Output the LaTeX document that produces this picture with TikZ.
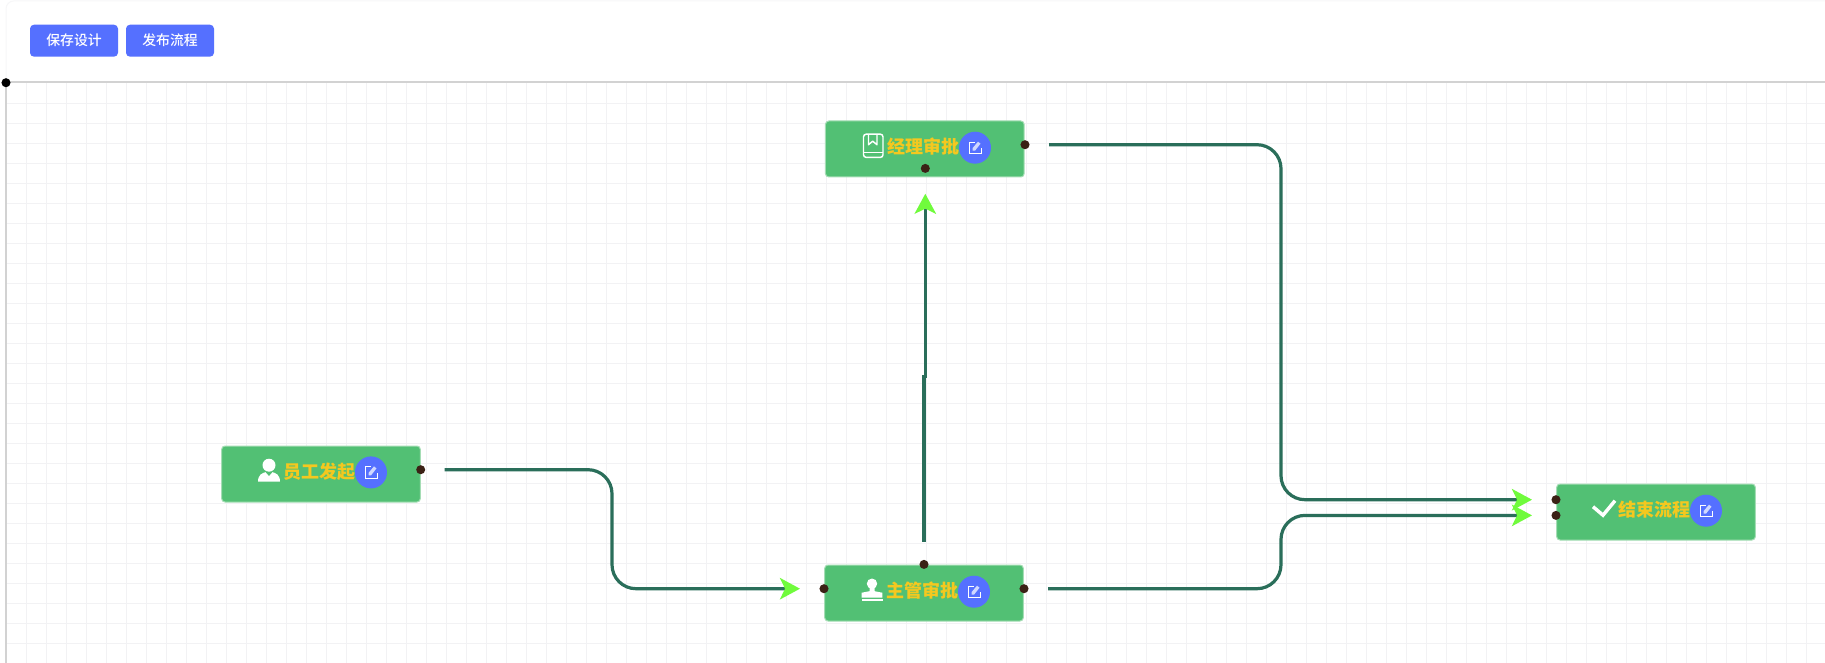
\documentclass[tikz,border=0pt]{standalone}
\usepackage{fontspec}
\setmainfont{Noto Sans CJK SC}
\newfontfamily\btnfont{Noto Sans CJK SC Medium}
\usepackage{xcolor}
\usetikzlibrary{arrows.meta}
\definecolor{flowgreen}{HTML}{52C074}
\definecolor{flowedge}{HTML}{A5DDB5}
\definecolor{flowblue}{HTML}{5570FF}
\definecolor{flowgold}{HTML}{F4C81F}
\definecolor{flowline}{HTML}{2A6E5A}
\definecolor{flowtip}{HTML}{70FB3C}
\definecolor{flowdot}{HTML}{3B2115}
\definecolor{flowgrid}{HTML}{F2F2F4}
\definecolor{flowframe}{HTML}{F7F7F8}
\definecolor{flowrule}{HTML}{D2D2D2}
\tikzset{
    btn/.style={
        draw=none,
        fill=flowblue,
        rounded corners=3pt,
        minimum width=66pt,
        minimum height=24pt,
        inner sep=0pt,
        text=white,
        font=\fontsize{10.4}{12}\btnfont
    },
    step box/.style={
        draw=flowedge,
        line width=.75pt,
        fill=flowgreen,
        rounded corners=2.5pt,
        minimum width=149pt,
        minimum height=42pt,
        inner sep=0pt
    },
    step text/.style={
        text=flowgold,
        inner sep=0pt,
        font=\fontsize{13.5}{15}\selectfont\bfseries
    },
    edit knob/.style={
        circle,
        fill=flowblue,
        minimum size=24pt,
        inner sep=0pt
    },
    port/.style={
        circle,
        fill=flowdot,
        minimum size=6.8pt,
        inner sep=0pt
    },
    flow/.style={
        draw=flowline,
        line width=2.4pt,
        rounded corners=18pt,
        -{Stealth[length=15pt,width=16pt,inset=3.8pt,fill=flowtip,color=flowtip]}
    },
    icon/.style={draw=white,line width=1.1pt,fill=none}
}
% #1 name, #2 centre x, #3 centre y, #4 label, #5 knob x, #6 knob y
\newcommand{\stepnode}[6] {
    \node[step box] (#1) at ({#2}, {#3}) {};
    \node[step text,anchor=west] (#1text) at ({#2-37.5}, {#3-2.5}) {#4};
    \node[edit knob] (#1knob) at ({#5}, {#6}) {};
    \begin{scope}[shift={(#5,#6)}]
        \draw[white,line width=.7pt] (-.5,-5.5) -- (-6,-5.5) -- (-6,6) -- (6,6) -- (6,.5);
        \fill[white!72!flowblue] (-2.5,3) -- (-2.5,.5) -- (3,-6) -- (5.5,-4) -- (0,3) -- cycle;
    \end{scope}
}
\begin{document}
\begin{tikzpicture}[x=.75pt,y=-.75pt]
    \useasboundingbox (0,-.7) rectangle (1825,662.3);
    \fill[white] (0,-.7) rectangle (1825,662.3);
    % canvas grid
    \foreach \gx in {26.7,46.7,...,1825}
        \draw[flowgrid,line width=.75pt] (\gx,82) -- (\gx,663);
    \foreach \gy in {102.7,122.7,...,663}
        \draw[flowgrid,line width=.75pt] (6,\gy) -- (1825,\gy);
    \draw[flowframe,line width=.75pt,rounded corners=6pt] (6,81) -- (6,.2) -- (1825,.2);
    \draw[flowrule,line width=1.5pt] (6,663) -- (6,81.5) -- (1825,81.5);
    \node[circle,fill=black,minimum size=6.8pt,inner sep=0pt] (origin) at (6,82) {};
    % toolbar
    \node[btn] (save) at (74,40) {保存设计};
    \node[btn] (publish) at (170,40) {发布流程};
    % steps
    \stepnode{start}{321}{473.3}{员工发起}{371}{471.7}
    \stepnode{lead}{924}{592.3}{主管审批}{974}{591}
    \stepnode{boss}{924.8}{148.3}{经理审批}{975}{147}
    \stepnode{stop}{1656}{511.3}{结束流程}{1706}{510}
    % icons
    \fill[white] (269,464.5) circle (6.5);
    \fill[white] (258,481) .. controls (258,474) and (262,472.5) .. (265.5,471.5) -- (269,475.5) -- (272.5,471.5) .. controls (276,472.5) and (280,474) .. (280,481) -- cycle;
    \fill[white] (872,583) circle (5.2);
    \fill[white] (869.5,585) -- (874.5,585) -- (874.5,590.5) -- (882.3,592) -- (882.3,597) -- (861.7,597) -- (861.7,592) -- (869.5,590.5) -- cycle;
    \fill[white] (861.5,598.4) rectangle (882.5,600);
    \draw[icon,rounded corners=2pt] (863.5,133.5) rectangle (883,156.7);
    \draw[icon] (863.5,151.7) -- (883,151.7);
    \draw[icon,line join=round] (868.5,133.5) -- (868.5,144) -- (872.7,140.5) -- (877,144) -- (877,133.5);
    \draw[white,line width=2.6pt] (1593,506) -- (1603,514.5) -- (1615,500);
    % ports
    \node[port] (startout) at (420.7,469) {};
    \node[port] (leadin) at (824,588) {};
    \node[port] (leadup) at (924,563.7) {};
    \node[port] (leadout) at (1024,588) {};
    \node[port] (bossdown) at (925.3,167.7) {};
    \node[port] (bossout) at (1025,144) {};
    \node[port] (stopa) at (1556,499) {};
    \node[port] (stopb) at (1556,514.7) {};
    \coordinate (turnleft) at (612,0);
    \coordinate (turnright) at (1281,0);
    \coordinate (jog) at (0,376);
    % connectors
    \draw[flow] ([xshift=18pt]startout.center) -- (turnleft |- startout.center) -- (turnleft |- leadin.center) -- ([xshift=-18pt]leadin.center);
    \draw[flow,rounded corners=0pt] ([yshift=17pt]leadup.center) -- (leadup.center |- jog) -- (bossdown.center |- jog) -- ([yshift=-19pt]bossdown.center);
    \draw[flow] ([xshift=18pt]bossout.center) -- (turnright |- bossout.center) -- (turnright |- stopa.center) -- ([xshift=-18pt]stopa.center);
    \draw[flow] ([xshift=18pt]leadout.center) -- (turnright |- leadout.center) -- (turnright |- stopb.center) -- ([xshift=-18pt]stopb.center);
\end{tikzpicture}
\end{document}
